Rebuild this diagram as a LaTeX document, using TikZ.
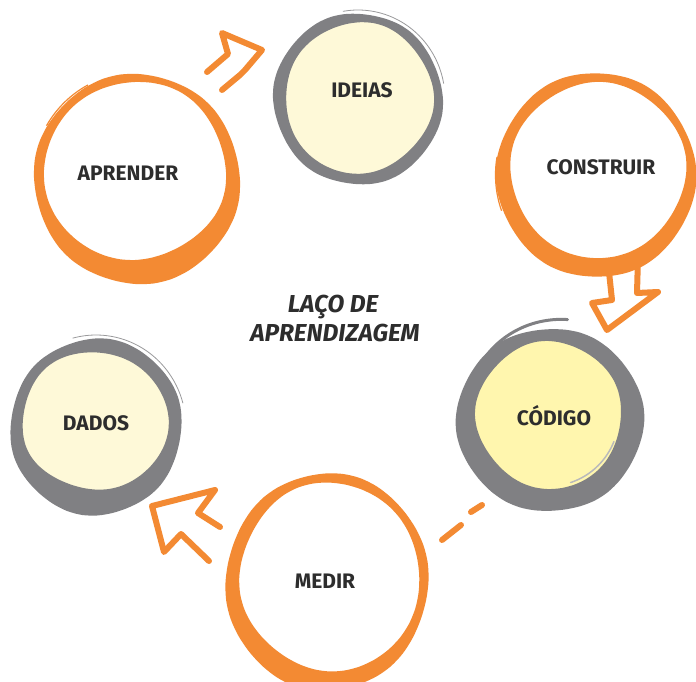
\documentclass[tikz,border=0pt]{standalone}
\usepackage{fontspec}
\setmainfont{Fira Sans}
\definecolor{loopOrange}{HTML}{F38A33}
\definecolor{loopGray}{HTML}{808083}
\definecolor{paleYellow}{HTML}{FEF9D8}
\definecolor{brightYellow}{HTML}{FFF6AE}
\definecolor{labelInk}{HTML}{2D2D2D}
% phase used by the wobble of the next ring
\newcommand\ringphase{0}
% ring between an outer and an inner wobbly ellipse
% #1 colour, #2-#5 outer cx cy rx ry, #6-#9 inner cx cy rx ry
\newcommand\sketchring[9]{%
  \fill[#1,even odd rule]
    plot[smooth cycle,domain=0:350,samples=36]
      ({#2+#4*cos(\x)+1.6*sin(3*\x+\ringphase)},{#3+#5*sin(\x)+1.4*cos(5*\x+\ringphase)})
    plot[smooth cycle,domain=0:350,samples=36]
      ({#6+#8*cos(\x)+1.2*sin(4*\x+2*\ringphase)},{#7+#9*sin(\x)+1.2*cos(3*\x+\ringphase)});}
% filled wobbly disc: #1 colour, #2-#5 cx cy rx ry
\newcommand\sketchdisc[5]{%
  \fill[#1] plot[smooth cycle,domain=0:350,samples=36]
      ({#2+#4*cos(\x)},{#3+#5*sin(\x)});}
\begin{document}
\begin{tikzpicture}[x=1pt,y=-1pt,
  steplabel/.style={font=\fontsize{21}{25}\selectfont\bfseries,text=labelInk,inner sep=0pt,anchor=base},
  titlelabel/.style={font=\fontsize{24.5}{29}\selectfont\bfseries\itshape,text=labelInk,inner sep=0pt,anchor=base},
  arrowstroke/.style={draw=loopOrange,line width=6pt,line join=round,line cap=round},
  dashstroke/.style={draw=loopOrange,line width=6pt,line cap=round},
  thinstroke/.style={line width=0.8pt}]
\useasboundingbox (0,0) rectangle (696,682);
\fill[white] (0,0) rectangle (696,682);

% yellow centres of the grey rings
\sketchdisc{paleYellow}{359}{98}{76}{77}
\sketchdisc{brightYellow}{549}{415}{75}{75}
\sketchdisc{paleYellow}{95}{421}{75}{71}

% rings
\renewcommand\ringphase{0}
\sketchring{loopOrange}{137}{179}{103}{105}{135}{171}{91}{89}
\renewcommand\ringphase{40}
\sketchring{loopGray}{358}{99}{84}{86}{359}{98}{74}{75}
\renewcommand\ringphase{80}
\sketchring{loopOrange}{596}{175}{99}{103}{598}{170}{88}{87}
\renewcommand\ringphase{120}
\sketchring{loopGray}{550}{420}{93}{92}{549}{415}{73}{73}
\renewcommand\ringphase{160}
\sketchring{loopOrange}{327}{582}{101}{109}{330}{577}{90}{94}
\renewcommand\ringphase{200}
\sketchring{loopGray}{96}{427}{86}{88}{95}{421}{73}{69}

% loose pen strokes around the rings
\draw[loopGray!80,thinstroke] plot[smooth,domain=-100:-10] ({358+87*cos(\x)},{99+89*sin(\x)});
\draw[loopGray,line width=3pt,line cap=round] plot[smooth,domain=-135:-80] ({550+(90+0.2*(\x+135))*cos(\x)},{420+(91+0.2*(\x+135))*sin(\x)});
\draw[loopGray!55,line width=1.5pt,line cap=round] plot[smooth,domain=22:72] ({549+70*cos(\x)},{415+71*sin(\x)});
\draw[loopGray!80,thinstroke] plot[smooth,domain=-105:-15] ({96+90*cos(\x)},{427+92*sin(\x)});
\draw[loopOrange,line width=1.2pt] plot[smooth,domain=-150:-118] ({137+104.5*cos(\x)},{179+106.5*sin(\x)});
\draw[loopOrange,line width=1.2pt] plot[smooth,domain=160:190] ({596+100.5*cos(\x)},{175+104.5*sin(\x)});

% step labels
\node[steplabel] (aprender)  at (128,180) {APRENDER};
\node[steplabel] (ideias)    at (362,98)  {IDEIAS};
\node[steplabel] (construir) at (601,175) {CONSTRUIR};
\node[steplabel] (codigo)    at (554,425) {CÓDIGO};
\node[steplabel] (medir)     at (325,588) {MEDIR};
\node[steplabel] (dados)     at (96,430)  {DADOS};

% title in the middle of the loop
\node[titlelabel] (titleA) at (333,312) {LAÇO DE};
\node[titlelabel] (titleB) at (335,341) {APRENDIZAGEM};

% hand-drawn hollow arrows between the steps
\coordinate (a1t1) at (207,72);  \coordinate (a1n1) at (228,54);
\coordinate (a1b1) at (222,33);  \coordinate (a1tip) at (262,50);
\coordinate (a1b2) at (245,70);  \coordinate (a1n2) at (240,75);
\coordinate (a1t2) at (222,90);
\draw[arrowstroke] (a1t1) -- (a1n1) -- (a1b1) -- (a1tip) -- (a1b2) -- (a1n2) -- (a1t2);

\coordinate (a2t1) at (609,272); \coordinate (a2n1) at (612,300);
\coordinate (a2b1) at (592,303); \coordinate (a2tip) at (607,330);
\coordinate (a2b2) at (658,292); \coordinate (a2n2) at (637,293);
\coordinate (a2t2) at (638,257);
\draw[arrowstroke] (a2t1) -- (a2n1) -- (a2b1) -- (a2tip) -- (a2b2) -- (a2n2) -- (a2t2);

\coordinate (a3t1) at (220,527); \coordinate (a3n1) at (198,513);
\coordinate (a3b1) at (215,490); \coordinate (a3tip) at (152,506);
\coordinate (a3b2) at (164,552); \coordinate (a3n2) at (181,534);
\coordinate (a3t2) at (209,561);
\draw[arrowstroke] (a3t1) -- (a3n1) -- (a3b1) -- (a3tip) -- (a3b2) -- (a3n2) -- (a3t2);

% broken link from CÓDIGO to MEDIR
\coordinate (d1a) at (471,512); \coordinate (d1b) at (482,505);
\coordinate (d2a) at (442,540); \coordinate (d2b) at (461,525);
\draw[dashstroke] (d1a) -- (d1b);
\draw[dashstroke] (d2a) -- (d2b);
\end{tikzpicture}
\end{document}
